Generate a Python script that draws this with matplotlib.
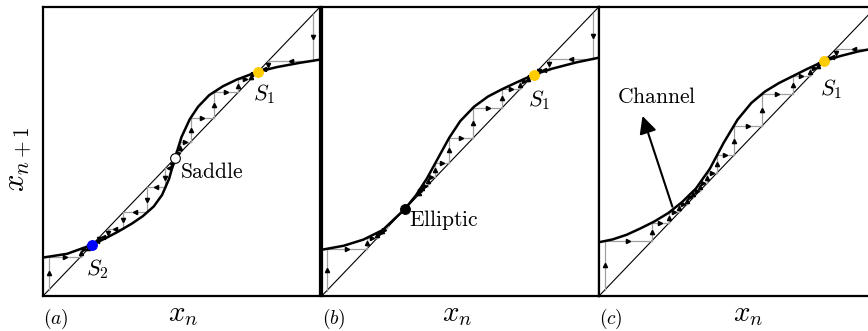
"""Cobweb diagrams of a 1D map near a saddle-node bifurcation."""

import numpy as np
from matplotlib import pyplot as plt

plt.rcParams['mathtext.fontset'] = 'cm'

#-----------------------------------------------------------------------------
# Data (unit square, x_n on x, x_{n+1} on y)
#-----------------------------------------------------------------------------

# panel (a): two stable points and a saddle
curve_a_x = [0, 0.087, 0.177, 0.23, 0.27, 0.32, 0.36, 0.40, 0.43, 0.455, 0.476,
             0.50, 0.53, 0.56, 0.60, 0.65, 0.70, 0.75, 0.776, 0.844, 0.928, 1.0]
curve_a_y = [0.133, 0.146, 0.177, 0.202, 0.222, 0.25, 0.276, 0.31, 0.35, 0.405,
             0.476, 0.55, 0.612, 0.655, 0.695, 0.726, 0.749, 0.767, 0.776, 0.792,
             0.807, 0.818]
cobweb_a = [
    [0.02, 0.136, 0.163, 0.172, 0.175],
    [0.466, 0.442, 0.376, 0.29, 0.233, 0.2035, 0.1895, 0.183, 0.18],
    [0.482, 0.4945, 0.533, 0.616, 0.705, 0.751, 0.767, 0.773],
    [0.976, 0.814, 0.785, 0.778],
]

# panel (b): the saddle has merged into an elliptic (tangent) point
curve_b_x = [0, 0.08, 0.15, 0.22, 0.30, 0.34, 0.38, 0.42, 0.46, 0.50, 0.55,
             0.60, 0.65, 0.70, 0.766, 0.83, 0.92, 1.0]
curve_b_y = [0.16, 0.174, 0.195, 0.228, 0.301, 0.348, 0.407, 0.477, 0.547, 0.605,
             0.655, 0.69, 0.715, 0.7375, 0.766, 0.786, 0.8085, 0.8245]
cobweb_b = [
    [0.018, 0.163, 0.201, 0.219, 0.2275, 0.235, 0.242],
    [0.35, 0.363, 0.382, 0.4105, 0.46, 0.547, 0.652, 0.716, 0.744, 0.7565, 0.762],
    [0.98, 0.8205, 0.783, 0.7745, 0.7686],
]

# panel (c): a narrow channel is left
curve_c_x = [0, 0.05, 0.10, 0.15, 0.20, 0.25, 0.30, 0.35, 0.40, 0.45, 0.50,
             0.55, 0.60, 0.65, 0.70, 0.75, 0.813, 0.87, 0.935, 1.0]
curve_c_y = [0.186, 0.196, 0.212, 0.234, 0.258, 0.287, 0.325, 0.372, 0.44, 0.53,
             0.61, 0.668, 0.708, 0.737, 0.761, 0.785, 0.813, 0.83, 0.846, 0.858]
cobweb_c = [
    [0.022, 0.1904, 0.2534, 0.2896, 0.317, 0.341, 0.3635, 0.39, 0.426, 0.487,
     0.589, 0.699, 0.7605, 0.7897, 0.8027, 0.8085],
    [0.985, 0.855, 0.8255, 0.8167, 0.8141],
]

# fixed points: (x, face colour)
points_a = [(0.776, '#ffcc00'), (0.177, '#0000ff'), (0.476, 'white')]
points_b = [(0.766, '#ffcc00'), (0.301, 'black')]
points_c = [(0.813, '#ffcc00')]

# text labels: (text, x, y, vertical alignment)
labels_a = [(r'$S_1$', 0.758, 0.74, 'top'), (r'$S_2$', 0.155, 0.135, 'top'),
            (r'$\mathrm{Saddle}$', 0.495, 0.43, 'center')]
labels_b = [(r'$S_1$', 0.746, 0.72, 'top'),
            (r'$\mathrm{Elliptic}$', 0.316, 0.262, 'center')]
labels_c = [(r'$S_1$', 0.798, 0.758, 'top'),
            (r'$\mathrm{Channel}$', 0.065, 0.689, 'center')]

panel_names = ['$(a)$', '$(b)$', '$(c)$']
xlabel_pos = [0.505, 0.49, 0.54]

#-----------------------------------------------------------------------------
# Function definitions
#-----------------------------------------------------------------------------

def draw_cobweb(ax, seq):
    for k in range(len(seq) - 1):
        x0, x1 = seq[k], seq[k+1]
        # vertical: diagonal -> curve, horizontal: curve -> diagonal
        ax.plot([x0, x0], [x0, x1], color='#a0a0a0', lw=0.9, zorder=2)
        ax.plot([x0, x1], [x1, x1], color='#a0a0a0', lw=0.9, zorder=2)
        if abs(x1 - x0) > 0.008:
            up = x1 > x0
            ax.plot(x0, 0.5*(x0 + x1), marker='^' if up else 'v', ms=3,
                    color='k', mec='k', zorder=3)
            ax.plot(0.5*(x0 + x1), x1, marker='>' if up else '<', ms=3,
                    color='k', mec='k', zorder=3)


def draw_panel(ax, cx, cy, cobwebs, points, labels):
    ax.plot([0, 1], [0, 1], color='k', lw=0.8, zorder=2)
    for seq in cobwebs:
        draw_cobweb(ax, seq)
    ax.plot(cx, cy, color='k', lw=1.8, zorder=4, solid_joinstyle='round')
    for x, col in points:
        ax.plot(x, x, 'o', ms=7, mfc=col, mec='k' if col == 'white' else col,
                mew=0.8, zorder=5)
    for txt, x, y, va in labels:
        ax.text(x, y, txt, fontsize=16 if 'S' in txt[:3] else 15.5,
                ha='left', va=va, zorder=6)
    ax.set_xlim(0, 1)
    ax.set_ylim(0, 1)
    ax.set_xticks([])
    ax.set_yticks([])
    for sp in ax.spines.values():
        sp.set_linewidth(1.6)

#-----------------------------------------------------------------------------
# Main script
#-----------------------------------------------------------------------------

fig = plt.figure(figsize=(8.68, 3.31), dpi=100)
W, H = 868., 331.
lefts = [43, 321.7, 599]
axes = [fig.add_axes([l/W, (H-296)/H, 277/W, 289/H]) for l in lefts]

draw_panel(axes[0], curve_a_x, curve_a_y, cobweb_a, points_a, labels_a)
draw_panel(axes[1], curve_b_x, curve_b_y, cobweb_b, points_b, labels_b)
draw_panel(axes[2], curve_c_x, curve_c_y, cobweb_c, points_c, labels_c)

axes[2].annotate('', xy=(0.154, 0.632), xytext=(0.268, 0.30),
                 arrowprops=dict(arrowstyle='-|>', mutation_scale=26,
                                 lw=1.5, color='k'), zorder=6)

for ax, name, xp in zip(axes, panel_names, xlabel_pos):
    ax.text(0.0, -0.078, name, fontsize=14, ha='left', va='center',
            clip_on=False)
    ax.text(xp, -0.088, '$x_n$', fontsize=21, ha='center', va='baseline',
            clip_on=False)

axes[0].text(-0.09, 0.474, '$x_{n+1}$', fontsize=22, rotation=90,
             ha='center', va='center')

fig.savefig('out.png', dpi=100)
